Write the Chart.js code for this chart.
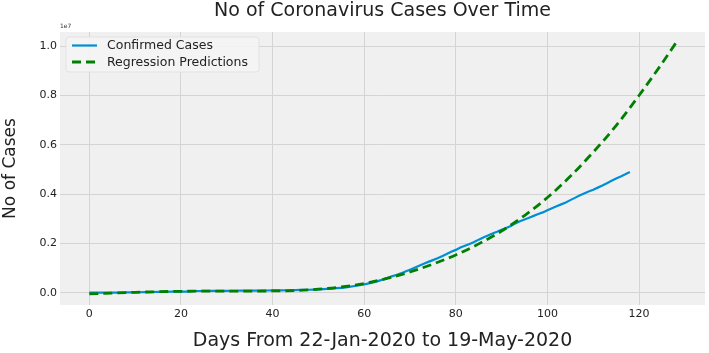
<!DOCTYPE html>
<html>
<head>
<meta charset="utf-8">
<script src="https://cdn.jsdelivr.net/npm/chart.js@4/dist/chart.umd.min.js"></script>
<style>
html,body{margin:0;padding:0;background:#fff;}
#wrap{width:709px;height:353px;}
</style>
</head>
<body>
<div id="wrap"><canvas id="c" width="709" height="353"></canvas></div>
<script>
// ---- data ----
const chartTitle = "No of Coronavirus Cases Over Time";
const xTitle = "Days From 22-Jan-2020 to 19-May-2020";
const yTitle = "No of Cases";
const seriesNames = ["Confirmed Cases", "Regression Predictions"];
// confirmed cases, one value per day starting at day 0 (thousands)
const confirmedK = [0.6,0.7,0.9,1.4,2.1,2.9,5.6,6.2,8.2,9.9,
  12,17,20,24,28,31,34,37,40,43,
  45,45,60,67,69,71,73,75,76,76,
  77,79,79,80,80,81,83,84,86,88,
  90,93,95,98,102,106,110,114,119,126,
  128,145,156,167,182,197,215,243,272,305,
  337,378,418,468,530,593,661,720,782,857,
  933,1013,1096,1176,1250,1321,1396,1480,1565,1658,
  1736,1835,1905,1976,2056,2152,2240,2318,2401,2472,
  2549,2624,2709,2811,2897,2971,3042,3116,3194,3257,
  3344,3427,3507,3583,3663,3755,3846,3938,4024,4102,
  4178,4262,4347,4442,4542,4634,4714,4802,4897];
// regression predictions (thousands) at these days
const regDays = [0,5,10,15,20,25,30,35,40,45,50,55,60,65,70,75,80,85,90,95,100,105,110,115,120,125,128];
const regK = [-50,-15,15,40,55,62,65,66,70,88,140,230,370,580,840,1160,1530,1980,2500,3130,3860,4720,5700,6780,8000,9300,10120];
const xTickValues = [0,20,40,60,80,100,120];
const yTickValues = [0,2000000,4000000,6000000,8000000,10000000];
const yOffsetText = "1e7";

// ---- build the table ----
const confirmedPts = confirmedK.map((v,i)=>({x:i, y:v*1000}));
const regPts = regDays.map((d,i)=>({x:d, y:regK[i]*1000}));

const FONT = "'DejaVu Sans', sans-serif";
const BLUE = "#008fd5";
const GREEN = "#008000";

const bgPlugin = {
  id:'bg',
  beforeDraw(chart){
    const {ctx, chartArea:a} = chart;
    ctx.save();
    ctx.fillStyle = '#ffffff';
    ctx.fillRect(0,0,chart.width,chart.height);
    ctx.fillStyle = '#f0f0f0';
    ctx.fillRect(a.left, a.top, a.right-a.left, a.bottom-a.top);
    ctx.restore();
  }
};

const legendPlugin = {
  id:'innerLegend',
  afterDraw(chart){
    const {ctx, chartArea:a} = chart;
    ctx.save();
    // offset text
    ctx.fillStyle = '#333';
    ctx.font = "6px " + FONT;
    ctx.textAlign = 'left';
    ctx.textBaseline = 'alphabetic';
    ctx.fillText(yOffsetText, a.left, a.top - 4);
    // legend box
    const bx = a.left + 6, by = a.top + 5, bw = 193, bh = 35, r = 3;
    ctx.beginPath();
    ctx.moveTo(bx+r,by); ctx.lineTo(bx+bw-r,by); ctx.quadraticCurveTo(bx+bw,by,bx+bw,by+r);
    ctx.lineTo(bx+bw,by+bh-r); ctx.quadraticCurveTo(bx+bw,by+bh,bx+bw-r,by+bh);
    ctx.lineTo(bx+r,by+bh); ctx.quadraticCurveTo(bx,by+bh,bx,by+bh-r);
    ctx.lineTo(bx,by+r); ctx.quadraticCurveTo(bx,by,bx+r,by);
    ctx.closePath();
    ctx.fillStyle = 'rgba(244,244,244,0.9)';
    ctx.fill();
    ctx.strokeStyle = '#e2e2e2';
    ctx.lineWidth = 1;
    ctx.stroke();
    const ds = chart.data.datasets;
    const rows = [by+8.5, by+25];
    ds.forEach((d,i)=>{
      ctx.beginPath();
      ctx.setLineDash(d.borderDash || []);
      ctx.strokeStyle = d.borderColor;
      ctx.lineWidth = d.borderWidth;
      ctx.moveTo(bx+6, rows[i]); ctx.lineTo(bx+31, rows[i]);
      ctx.stroke();
      ctx.setLineDash([]);
      ctx.fillStyle = '#222';
      ctx.font = "12.5px " + FONT;
      ctx.textBaseline = 'middle';
      ctx.fillText(d.label, bx+41, rows[i]+0.5);
    });
    ctx.restore();
  }
};

new Chart(document.getElementById('c'), {
  type:'line',
  data:{
    datasets:[
      {label:seriesNames[0], data:confirmedPts, borderColor:BLUE, borderWidth:2.2, pointRadius:0, tension:0, order:1, fill:false},
      {label:seriesNames[1], data:regPts, borderColor:GREEN, borderWidth:2.8, borderDash:[9,5], pointRadius:0, cubicInterpolationMode:'monotone', order:0, fill:false}
    ]
  },
  options:{
    responsive:false,
    devicePixelRatio:1,
    animation:false,
    layout:{padding:{left:0,right:4,top:0,bottom:0}},
    plugins:{
      legend:{display:false},
      tooltip:{enabled:false},
      title:{display:true, text:chartTitle, fullSize:false, color:'#222',
        font:{family:FONT, size:19, weight:'normal'}, padding:{top:0,bottom:9.2}}
    },
    scales:{
      x:{type:'linear', min:-6.4, max:134.4,
        afterBuildTicks(s){ s.ticks = xTickValues.map(v=>({value:v})); },
        afterFit(s){ s.height = 48; },
        grid:{color:'#d4d4d4', lineWidth:1, drawTicks:false},
        border:{display:false},
        ticks:{padding:3, color:'#222', font:{family:FONT, size:11}, maxRotation:0, callback:v=>String(v)},
        title:{display:true, text:xTitle, color:'#222', font:{family:FONT, size:19}, padding:{top:0,bottom:1}}
      },
      y:{type:'linear', min:-500000, max:10576000,
        afterBuildTicks(s){ s.ticks = yTickValues.map(v=>({value:v})); },
        afterFit(s){ s.width = 60; },
        grid:{color:'#d4d4d4', lineWidth:1, drawTicks:false},
        border:{display:false},
        ticks:{padding:3, color:'#222', font:{family:FONT, size:11}, callback:v=>(v/1e7).toFixed(1)},
        title:{display:true, text:yTitle, color:'#222', font:{family:FONT, size:17}, padding:{top:0,bottom:0}}
      }
    }
  },
  plugins:[bgPlugin, legendPlugin]
});
</script>
</body>
</html>
